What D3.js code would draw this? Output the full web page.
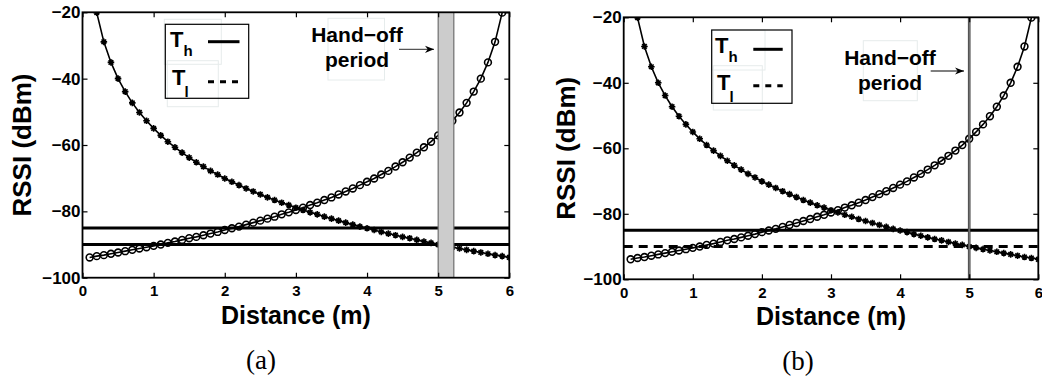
<!DOCTYPE html>
<html>
<head>
<meta charset="utf-8">
<script src="https://cdn.jsdelivr.net/npm/d3@7/dist/d3.min.js"></script>
<style>
  html, body { margin: 0; padding: 0; background: #fff; }
  svg { display: block; }
  text { font-family: "Liberation Sans", Arial, sans-serif; font-weight: bold; fill: #000; }
  .cap { font-family: "Liberation Serif", "Times New Roman", serif; font-weight: normal; }
</style>
</head>
<body>
<svg id="chart" width="1042" height="383"></svg>
<script>
// ---------------- data ----------------
const distanceAP1 = [0.1,0.2,0.3,0.4,0.5,0.6,0.7,0.8,0.9,1.0,1.1,1.2,1.3,1.4,1.5,1.6,1.7,1.8,1.9,2.0,
  2.1,2.2,2.3,2.4,2.5,2.6,2.7,2.8,2.9,3.0,3.1,3.2,3.3,3.4,3.5,3.6,3.7,3.8,3.9,4.0,
  4.1,4.2,4.3,4.4,4.5,4.6,4.7,4.8,4.9,5.0,5.1,5.2,5.3,5.4,5.5,5.6,5.7,5.8,5.9,6.0];
const rssiAP1 = [-5.0,-20.1,-28.9,-35.1,-40.0,-43.9,-47.3,-50.2,-52.7,-55.0,-57.1,-59.0,-60.7,-62.3,-63.8,-65.2,-66.5,-67.8,-68.9,-70.1,
  -71.1,-72.1,-73.1,-74.0,-74.9,-75.8,-76.6,-77.4,-78.1,-78.9,-79.6,-80.3,-80.9,-81.6,-82.2,-82.8,-83.4,-84.0,-84.6,-85.1,
  -85.6,-86.2,-86.7,-87.2,-87.7,-88.1,-88.6,-89.1,-89.5,-90.0,-90.4,-90.8,-91.2,-91.6,-92.0,-92.4,-92.8,-93.2,-93.5,-93.9];
const distanceAP2 = [0.1,0.2,0.3,0.4,0.5,0.6,0.7,0.8,0.9,1.0,1.1,1.2,1.3,1.4,1.5,1.6,1.7,1.8,1.9,2.0,
  2.1,2.2,2.3,2.4,2.5,2.6,2.7,2.8,2.9,3.0,3.1,3.2,3.3,3.4,3.5,3.6,3.7,3.8,3.9,4.0,
  4.1,4.2,4.3,4.4,4.5,4.6,4.7,4.8,4.9,5.0,5.1,5.2,5.3,5.4,5.5,5.6,5.7,5.8,5.9];
const rssiAP2 = [-93.9,-93.5,-93.2,-92.8,-92.4,-92.0,-91.6,-91.2,-90.8,-90.4,-90.0,-89.5,-89.1,-88.6,-88.1,-87.7,-87.2,-86.7,-86.2,-85.6,
  -85.1,-84.6,-84.0,-83.4,-82.8,-82.2,-81.6,-80.9,-80.3,-79.6,-78.9,-78.1,-77.4,-76.6,-75.8,-74.9,-74.0,-73.1,-72.1,-71.1,
  -70.1,-68.9,-67.8,-66.5,-65.2,-63.8,-62.3,-60.7,-59.0,-57.1,-55.0,-52.7,-50.2,-47.3,-43.9,-40.0,-35.1,-28.9,-20.1];
const xTicks = [0,1,2,3,4,5,6];
const yTicks = [-100,-80,-60,-40,-20];
const xDomain = [0,6];
const yDomain = [-100,-20];
const thresholdHigh = -85;   // T_h
const thresholdLow = -90;    // T_l
const handoffBandA = [5.0, 5.22];
const handoffLineB = 5.0;
const panelCaptions = ["(a)", "(b)"];
const xLabel = "Distance (m)";
const yLabel = "RSSI (dBm)";
const annotationLines = ["Hand\u2212off", "period"];

// ---------------- drawing ----------------
const svg = d3.select("#chart");
const defs = svg.append("defs");
defs.append("marker").attr("id","arrow").attr("viewBox","0 0 10 10")
  .attr("refX",10).attr("refY",5).attr("markerWidth",9).attr("markerHeight",9)
  .attr("markerUnits","userSpaceOnUse").attr("orient","auto")
  .append("path").attr("d","M0,1 L10,5 L0,9 L3,5 Z").attr("fill","#000");

function drawPanel(o) {
  const x = d3.scaleLinear().domain(xDomain).range([o.left, o.right]);
  const y = d3.scaleLinear().domain(yDomain).range([o.bottom, o.top]);
  const g = svg.append("g");
  const clipId = "clip" + o.id;
  defs.append("clipPath").attr("id", clipId).append("rect")
    .attr("x", o.left).attr("y", o.top).attr("width", o.right - o.left).attr("height", o.bottom - o.top);
  const plot = g.append("g").attr("clip-path", `url(#${clipId})`);

  // faint text boxes (annotation artifacts)
  o.faint.forEach(b => g.append("rect").attr("x", b[0]).attr("y", b[1]).attr("width", b[2]).attr("height", b[3])
    .attr("fill","none").attr("stroke","#e6ecec").attr("stroke-width",1));

  const line = d3.line().x(d => x(d[0])).y(d => y(d[1]));
  const ap1 = distanceAP1.map((d,i) => [d, rssiAP1[i]]);
  const ap2 = distanceAP2.map((d,i) => [d, rssiAP2[i]]);

  plot.append("path").datum(ap1).attr("d", line).attr("fill","none").attr("stroke","#000").attr("stroke-width",1.6);
  plot.append("path").datum(ap2).attr("d", line).attr("fill","none").attr("stroke","#000").attr("stroke-width",1.6);

  // star markers for AP1
  plot.selectAll(".star").data(ap1).enter().append("path")
    .attr("transform", d => `translate(${x(d[0])},${y(d[1])})`)
    .attr("d", "M-3.3,0H3.3M0,-3.3V3.3M-2.3,-2.3L2.3,2.3M-2.3,2.3L2.3,-2.3")
    .attr("stroke","#000").attr("stroke-width",1.6).attr("fill","none");
  // circle markers for AP2
  plot.selectAll(".circ").data(ap2).enter().append("circle")
    .attr("cx", d => x(d[0])).attr("cy", d => y(d[1])).attr("r", 3.4)
    .attr("fill","none").attr("stroke","#000").attr("stroke-width",1.6);

  // thresholds
  plot.append("line").attr("x1", o.left).attr("x2", o.right)
    .attr("y1", y(thresholdHigh)).attr("y2", y(thresholdHigh))
    .attr("stroke","#000").attr("stroke-width",3);
  plot.append("line").attr("x1", o.left).attr("x2", o.right)
    .attr("y1", y(thresholdLow)).attr("y2", y(thresholdLow))
    .attr("stroke","#000").attr("stroke-width",3)
    .attr("stroke-dasharray", o.dashedLow ? "9,6" : null);

  // hand-off marker
  if (o.band) {
    plot.append("rect").attr("x", x(o.band[0])).attr("y", o.top)
      .attr("width", x(o.band[1]) - x(o.band[0])).attr("height", o.bottom - o.top)
      .attr("fill","#cccccc").attr("stroke","#6e6e6e").attr("stroke-width",1.2);
  } else {
    plot.append("line").attr("x1", x(o.vline)).attr("x2", x(o.vline))
      .attr("y1", o.top).attr("y2", o.bottom).attr("stroke","#3a3a3a").attr("stroke-width",2.6);
    plot.append("line").attr("x1", x(o.vline)).attr("x2", x(o.vline))
      .attr("y1", o.top).attr("y2", o.bottom).attr("stroke","#8a8a8a").attr("stroke-width",1);
  }

  // axes (box with inward ticks)
  const tick = 5;
  g.append("g").attr("transform", `translate(0,${o.bottom})`)
    .call(d3.axisBottom(x).tickValues(xTicks).tickSize(-tick).tickPadding(0).tickFormat(d3.format("d")))
    .call(a => { a.select(".domain").remove(); a.selectAll("text").attr("font-size", 15).attr("y", o.xTickBase).attr("dy", 0).attr("font-family","Liberation Sans, Arial, sans-serif").attr("font-weight","bold"); });
  g.append("g").attr("transform", `translate(0,${o.top})`)
    .call(d3.axisTop(x).tickValues(xTicks).tickSize(-tick).tickFormat(""))
    .call(a => a.select(".domain").remove());
  g.append("g").attr("transform", `translate(${o.left},0)`)
    .call(d3.axisLeft(y).tickValues(yTicks).tickSize(-tick).tickPadding(2).tickFormat(d => "\u2212" + Math.abs(d)))
    .call(a => { a.select(".domain").remove(); a.selectAll("text").attr("font-size", 17).attr("font-family","Liberation Sans, Arial, sans-serif").attr("font-weight","bold"); });
  g.append("g").attr("transform", `translate(${o.right},0)`)
    .call(d3.axisRight(y).tickValues(yTicks).tickSize(-tick).tickFormat(""))
    .call(a => a.select(".domain").remove());
  g.selectAll(".tick line").attr("stroke","#000").attr("stroke-width",1.2);
  g.append("rect").attr("x", o.left).attr("y", o.top).attr("width", o.right - o.left).attr("height", o.bottom - o.top)
    .attr("fill","none").attr("stroke","#000").attr("stroke-width",1.8);

  // axis labels
  g.append("text").attr("x", (o.left + o.right) / 2).attr("y", o.xLabelY)
    .attr("text-anchor","middle").attr("font-size", 25).text(xLabel);
  g.append("text").attr("transform", `translate(${o.yLabelX},${(o.top + o.bottom) / 2}) rotate(-90)`)
    .attr("text-anchor","middle").attr("font-size", 26).text(yLabel);

  // caption
  g.append("text").attr("class","cap").attr("x", o.capX).attr("y", o.capY)
    .attr("text-anchor","middle").attr("font-size", 27).text(o.caption);

  // legend
  const L = o.legend;
  g.append("rect").attr("x", L.x).attr("y", L.y).attr("width", L.w).attr("height", L.h)
    .attr("fill","none").attr("stroke","#000").attr("stroke-width",1.2);
  const t1 = g.append("text").attr("x", L.tx).attr("y", L.b1).attr("font-size", 22);
  t1.append("tspan").text("T");
  t1.append("tspan").attr("font-size", 15).attr("dy", 9).text("h");
  const t2 = g.append("text").attr("x", L.tx + 2).attr("y", L.b2).attr("font-size", 22);
  t2.append("tspan").text("T");
  t2.append("tspan").attr("font-size", 15).attr("dy", 12).attr("dx", -1).text("l");
  g.append("line").attr("x1", L.lx1).attr("x2", L.lx2).attr("y1", L.ly1).attr("y2", L.ly1)
    .attr("stroke","#000").attr("stroke-width",3);
  g.append("line").attr("x1", L.lx1).attr("x2", L.lx2).attr("y1", L.ly2).attr("y2", L.ly2)
    .attr("stroke","#000").attr("stroke-width",3).attr("stroke-dasharray","6,6");

  // annotation
  const A = o.ann;
  annotationLines.forEach((s, i) => g.append("text").attr("x", A.cx).attr("y", A.b + i * 25)
    .attr("text-anchor","middle").attr("font-size", 21).text(s));
  g.append("line").attr("x1", A.ax1).attr("x2", A.ax2).attr("y1", A.ay).attr("y2", A.ay)
    .attr("stroke","#555").attr("stroke-width",1.3).attr("marker-end","url(#arrow)");
}

drawPanel({
  id: "a", left: 82.5, right: 509.3, top: 12.3, bottom: 277.7,
  band: handoffBandA, dashedLow: false, xTickBase: 296.5 - 277.7,
  xLabelY: 323.5, yLabelX: 31, capX: 261, capY: 369, caption: panelCaptions[0],
  legend: { x: 165.3, y: 24.3, w: 83.4, h: 74, tx: 170, b1: 46.5, b2: 85, lx1: 208, lx2: 239.5, ly1: 41.7, ly2: 81.7 },
  ann: { cx: 357, b: 41.7, ax1: 399, ax2: 434, ay: 49.3 },
  faint: [[164.3,19.3,57,45],[167.3,60.7,51,46],[328,18.3,56.5,61.7]]
});
drawPanel({
  id: "b", left: 623.7, right: 1038.3, top: 17.3, bottom: 279.3,
  vline: handoffLineB, dashedLow: true, xTickBase: 298.5 - 279.3,
  xLabelY: 325, yLabelX: 575, capX: 798, capY: 370, caption: panelCaptions[1],
  legend: { x: 711.7, y: 30, w: 80.3, h: 73.3, tx: 715, b1: 53.3, b2: 90, lx1: 753.3, lx2: 782.7, ly1: 49.3, ly2: 85.7 },
  ann: { cx: 890, b: 64.5, ax1: 930.7, ax2: 964, ay: 71 },
  faint: [[711.7,30,53.3,40],[713.3,65.7,49,44.3],[863.3,40.7,54,60]]
});
</script>
</body>
</html>
